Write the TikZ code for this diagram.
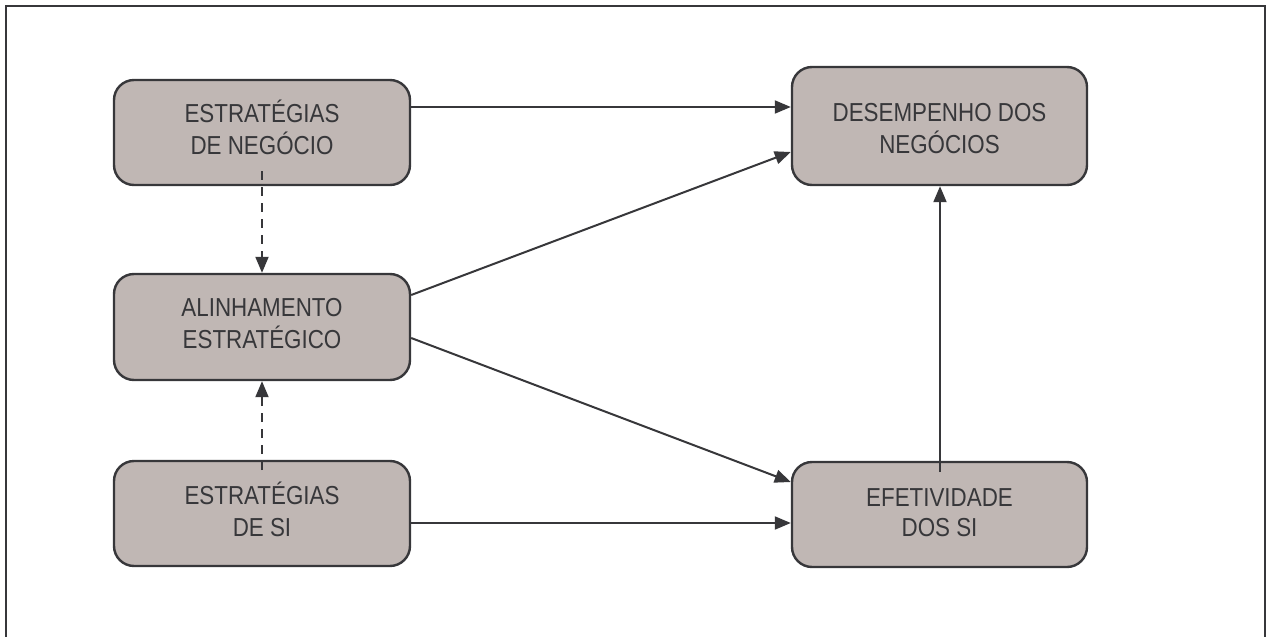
\documentclass[tikz,border=0pt]{standalone}
\usepackage{fontspec}
\setmainfont{Liberation Sans}[FakeStretch=0.86]
\usetikzlibrary{arrows.meta}
\definecolor{boxfill}{RGB}{192,183,180}
\definecolor{ink}{RGB}{55,55,58}
\begin{document}
\begin{tikzpicture}[x=1pt,y=-1pt,
  box/.style={draw=ink, line width=2.4pt, fill=boxfill, rounded corners=20pt,
    minimum width=296pt, align=center, text=ink,
    font=\fontsize{26}{32}\selectfont, inner sep=0pt, text depth=6pt},
  conn/.style={draw=ink, line width=2pt, -{Triangle[length=16pt,width=13pt]}},
  dconn/.style={conn, dash pattern=on 9pt off 7pt}]
  \useasboundingbox (0,0) rectangle (1267,637);
  % outer frame, running past the lower edge
  \draw[ink, line width=2pt] (6,660) -- (6,6) -- (1265,6) -- (1265,660);

  % boxes (text height lifts the two lines a little above the middle)
  \node[box, minimum height=105pt, text height=49pt] (neg) at (262,132.5) {ESTRATÉGIAS\\DE NEGÓCIO};
  \node[box, minimum height=106pt, text height=48pt] (aln) at (262,327) {ALINHAMENTO\\ESTRATÉGICO};
  \node[box, minimum height=105pt, text height=51pt] (si) at (262,513.5) {ESTRATÉGIAS\\DE SI};
  \node[box, minimum width=295pt, minimum height=118pt, text height=60pt] (des) at (939.5,126) {DESEMPENHO DOS\\NEGÓCIOS};
  \node[box, minimum width=295pt, minimum height=105pt, text height=50.4pt,
    font=\fontsize{26}{30}\selectfont] (efe) at (939.5,514.5) {EFETIVIDADE\\DOS SI};

  % starting points inside boxes
  \coordinate (negin) at (262,171);
  \coordinate (siin) at (262,470);
  \coordinate (efein) at (940,472);

  % connectors
  \draw[conn] (neg.east |- 0,107) -- (des.west |- 0,107);
  \draw[conn] (aln.east |- 0,295) -- (des.west |- 0,152);
  \draw[conn] (aln.east |- 0,338) -- (efe.west |- 0,482);
  \draw[conn] (si.east |- 0,523) -- (efe.west |- 0,523);
  \draw[conn] (efein) -- (des.south -| efein);
  \draw[dconn] (negin) -- (aln.north);
  \draw[dconn] (siin) -- (aln.south);
\end{tikzpicture}
\end{document}
